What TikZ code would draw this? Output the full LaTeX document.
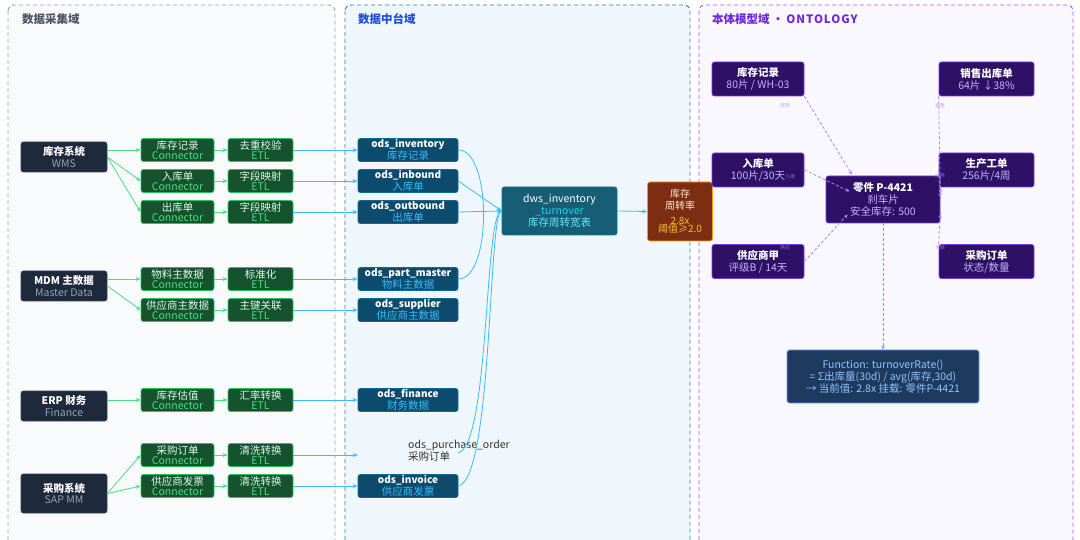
\documentclass[tikz,border=0pt]{standalone}
\usepackage{fontspec}
\setmainfont{Noto Sans CJK SC}
\usetikzlibrary{arrows.meta,calc}
\definecolor{srcfill}{HTML}{1E293B}
\definecolor{srcline}{HTML}{334155}
\definecolor{srcsub}{HTML}{94A3B8}
\definecolor{gfill}{HTML}{14532D}
\definecolor{gline}{HTML}{22C55E}
\definecolor{gsub}{HTML}{4ADE80}
\definecolor{gtop}{HTML}{DCFCE7}
\definecolor{ofill}{HTML}{0C4A6E}
\definecolor{oline}{HTML}{0E6A90}
\definecolor{osub}{HTML}{38BDF8}
\definecolor{dfill}{HTML}{155E75}
\definecolor{dline}{HTML}{0E7490}
\definecolor{dsub}{HTML}{22D3EE}
\definecolor{dsub2}{HTML}{67E8F9}
\definecolor{mfill}{HTML}{7C2D12}
\definecolor{mline}{HTML}{F59E0B}
\definecolor{mtop}{HTML}{FFEDD5}
\definecolor{amber}{HTML}{FBBF24}
\definecolor{pfill}{HTML}{2E1065}
\definecolor{pline}{HTML}{7C3AED}
\definecolor{psub}{HTML}{C4B5FD}
\definecolor{pedge}{HTML}{A78BFA}
\definecolor{ffill}{HTML}{1E3A5F}
\definecolor{fline}{HTML}{60A5FA}
\definecolor{ftext}{HTML}{93C5FD}
\definecolor{panLfill}{HTML}{F8FAFC}
\definecolor{panLline}{HTML}{9CA3AF}
\definecolor{panLtext}{HTML}{4B5563}
\definecolor{panMfill}{HTML}{F0F7FC}
\definecolor{panMline}{HTML}{2B7BB0}
\definecolor{panMtext}{HTML}{1D4ED8}
\definecolor{panRfill}{HTML}{FAF8FF}
\definecolor{panRline}{HTML}{A855F7}
\definecolor{panRtext}{HTML}{6D28D9}
\definecolor{potext}{HTML}{333333}
\tikzset{
  box/.style={rounded corners=2.5pt, align=center, inner sep=0pt, line width=0.8pt},
  src/.style={box, fill=srcfill, draw=srcline, minimum width=86pt, minimum height=30pt, text=white, font=\fontsize{10.5}{11.5}\selectfont},
  conn/.style={box, fill=gfill, draw=gline, minimum width=73pt, minimum height=23pt, text=gtop, font=\fontsize{10.5}{10}\selectfont},
  etl/.style={conn, minimum width=65pt},
  ods/.style={box, fill=ofill, draw=oline, minimum width=100pt, minimum height=23pt, text=white, font=\fontsize{10.5}{10}\selectfont},
  dws/.style={box, fill=dfill, draw=dline, minimum width=115pt, minimum height=48pt, text=white, font=\fontsize{10.5}{12}\selectfont},
  metric/.style={box, fill=mfill, draw=mline, minimum width=65pt, minimum height=59pt, text=mtop, font=\fontsize{10}{12}\selectfont},
  onto/.style={box, fill=pfill, draw=pline, minimum height=34pt, text=white, font=\fontsize{10.5}{12}\selectfont},
  func/.style={box, fill=ffill, draw=fline, minimum width=192pt, minimum height=53pt, text=ftext, font=\fontsize{10.5}{12}\selectfont},
  garr/.style={draw=gsub, line width=0.8pt, -{Stealth[length=5pt,width=4pt]}},
  barr/.style={draw=osub, line width=0.8pt, -{Stealth[length=5pt,width=4pt]}},
  bline/.style={draw=osub, line width=0.8pt},
  parr/.style={draw=pedge, line width=0.8pt, dash pattern=on 3pt off 2pt, -{Stealth[length=4pt,width=3.5pt]}},
  elab/.style={text=pedge, opacity=0.75, font=\fontsize{5}{5}\selectfont, inner sep=0pt},
  paneltitle/.style={anchor=west, font=\fontsize{11.5}{12}\selectfont\bfseries, inner sep=0pt},
}
\begin{document}
\begin{tikzpicture}[x=1pt,y=-1pt]
\useasboundingbox (0,0) rectangle (1080,540);
\fill[white] (0,0) rectangle (1080,540);
% panels
\draw[fill=panLfill, draw=panLline, line width=0.9pt, dash pattern=on 4pt off 3pt, rounded corners=6pt] (8,5) rectangle (335,550);
\draw[fill=panMfill, draw=panMline, line width=0.9pt, dash pattern=on 4pt off 3pt, rounded corners=6pt] (345,5) rectangle (690,550);
\draw[fill=panRfill, draw=panRline, line width=0.9pt, dash pattern=on 4pt off 3pt, rounded corners=6pt] (699,5) rectangle (1073,550);
\node[paneltitle, text=panLtext] (tL) at (22,19) {数据采集域};
\node[paneltitle, text=panMtext] (tM) at (358,19) {数据中台域};
\node[paneltitle, text=panRtext] (tR) at (712,19) {本体模型域 · {\addfontfeatures{LetterSpace=8}ONTOLOGY}};

% sources
\node[src] (wms) at (64,157) {{\bfseries 库存系统}\\{\color{srcsub}WMS}};
\node[src] (mdm) at (64,286) {{\bfseries MDM 主数据}\\{\color{srcsub}Master Data}};
\node[src] (erp) at (64,406) {{\bfseries ERP 财务}\\{\color{srcsub}Finance}};
\node[src, minimum height=39pt] (sap) at (64,493.5) {{\bfseries 采购系统}\\{\color{srcsub}SAP MM}};

% connectors
\node[conn] (c1) at (177.5,150) {库存记录\\{\color{gsub}Connector}};
\node[conn] (c2) at (177.5,181) {入库单\\{\color{gsub}Connector}};
\node[conn] (c3) at (177.5,212) {出库单\\{\color{gsub}Connector}};
\node[conn] (c4) at (177.5,279) {物料主数据\\{\color{gsub}Connector}};
\node[conn] (c5) at (177.5,310) {供应商主数据\\{\color{gsub}Connector}};
\node[conn] (c6) at (177.5,400) {库存估值\\{\color{gsub}Connector}};
\node[conn] (c7) at (177.5,455) {采购订单\\{\color{gsub}Connector}};
\node[conn] (c8) at (177.5,486) {供应商发票\\{\color{gsub}Connector}};

% ETL
\node[etl] (e1) at (260.5,150) {去重校验\\{\color{gsub}ETL}};
\node[etl] (e2) at (260.5,181) {字段映射\\{\color{gsub}ETL}};
\node[etl] (e3) at (260.5,212) {字段映射\\{\color{gsub}ETL}};
\node[etl] (e4) at (260.5,279) {标准化\\{\color{gsub}ETL}};
\node[etl] (e5) at (260.5,310) {主键关联\\{\color{gsub}ETL}};
\node[etl] (e6) at (260.5,400) {汇率转换\\{\color{gsub}ETL}};
\node[etl] (e7) at (260.5,455) {清洗转换\\{\color{gsub}ETL}};
\node[etl] (e8) at (260.5,486) {清洗转换\\{\color{gsub}ETL}};

% ODS
\node[ods] (o1) at (408,150) {{\bfseries\fontsize{10}{10}\selectfont ods\_inventory}\\{\color{osub}库存记录}};
\node[ods] (o2) at (408,181) {{\bfseries\fontsize{10}{10}\selectfont ods\_inbound}\\{\color{osub}入库单}};
\node[ods] (o3) at (408,212) {{\bfseries\fontsize{10}{10}\selectfont ods\_outbound}\\{\color{osub}出库单}};
\node[ods] (o4) at (408,279) {{\bfseries\fontsize{10}{10}\selectfont ods\_part\_master}\\{\color{osub}物料主数据}};
\node[ods] (o5) at (408,310) {{\bfseries\fontsize{10}{10}\selectfont ods\_supplier}\\{\color{osub}供应商主数据}};
\node[ods] (o6) at (408,400) {{\bfseries\fontsize{10}{10}\selectfont ods\_finance}\\{\color{osub}财务数据}};
\node[anchor=west, align=left, inner sep=0pt, text=potext, font=\fontsize{10.5}{10}\selectfont] (o7) at (408,451) {ods\_purchase\_order\\采购订单};
\coordinate (o7in) at (358,455);
\coordinate (o7out) at (458,453);
\node[ods] (o8) at (408,486) {{\bfseries\fontsize{10}{10}\selectfont ods\_invoice}\\{\color{osub}供应商发票}};

% DWS and metric
\node[dws] (dws) at (559.5,211) {dws\_inventory\\{\color{dsub}\_turnover}\\{\color{dsub2}库存周转宽表}};
\node[metric] (kpi) at (680,211.5) {库存\\周转率\\[3pt]{\color{amber}2.8x}\\[-4pt]{\color{amber}阈值≥2.0}};

% ontology
\node[onto, minimum width=92pt] (oa) at (758,79) {{\bfseries 库存记录}\\{\color{psub}80片 / WH-03}};
\node[onto, minimum width=92pt] (ob) at (758,170) {{\bfseries 入库单}\\{\color{psub}100片/30天}};
\node[onto, minimum width=92pt] (oc) at (758,261.5) {{\bfseries 供应商甲}\\{\color{psub}评级B / 14天}};
\node[onto, minimum width=95pt] (od) at (986.5,79) {{\bfseries 销售出库单}\\{\color{psub}64片 ↓38\%}};
\node[onto, minimum width=95pt] (oe) at (986.5,170) {{\bfseries 生产工单}\\{\color{psub}256片/4周}};
\node[onto, minimum width=95pt] (of) at (986.5,261.5) {{\bfseries 采购订单}\\{\color{psub}状态/数量}};
\node[onto, minimum width=114pt, minimum height=47pt] (part) at (883,199.5) {{\bfseries 零件 P-4421}\\{\color{psub}刹车片}\\{\color{psub}安全库存: 500}};
\node[func] (fn) at (883,376.5) {Function: turnoverRate()\\= Σ出库量(30d) / avg(库存,30d)\\→ 当前值: 2.8x 挂载: 零件P-4421};

% source -> connector
\draw[garr] (wms.east |- c1.west) -- (c1.west);
\draw[garr] (wms.east) -- (c2.west);
\draw[garr] (wms.east) -- (c3.west);
\draw[garr] (mdm.east |- c4.west) -- (c4.west);
\draw[garr] (mdm.east) -- (c5.west);
\draw[garr] (erp.east |- c6.west) -- (c6.west);
\draw[garr] (sap.east) -- (c7.west);
\draw[garr] (sap.east) -- (c8.west);
% connector -> etl
\foreach \i in {1,...,8} {\draw[garr] (c\i.east) -- (e\i.west);}
% etl -> ods
\draw[barr] (e1.east) -- (o1.west);
\draw[barr] (e2.east) -- (o2.west);
\draw[barr] (e3.east) -- (o3.west);
\draw[barr] (e4.east) -- (o4.west);
\draw[barr] (e5.east) -- (o5.west);
\draw[barr] (e6.east) -- (o6.west);
\draw[barr] (e7.east) -- (o7in);
\draw[barr] (e8.east) -- (o8.west);
% ods -> dws
\draw[bline] (o1.east) .. controls (492,150) and (492,279) .. (o4.east);
\draw[barr] (o2.east) -- (dws.west);
\draw[barr] (o3.east) -- (dws.west);
\draw[bline] (o7out) .. controls (490,445) and (484,211) .. (dws.west);
\draw[bline] (o8.east) .. controls (493,478) and (488,211) .. (dws.west);
\draw[barr] (dws.east) -- (kpi.west);

% ontology edges
\draw[parr] (oa.south east) -- ($(part.north)+(-31,-1)$);
\draw[parr] (ob.east) -- ($(part.west)+(24,-8)$);
\draw[parr] (oc.east) -- ($(part.west)+(22,15)$);
\draw[parr] (od.south west) -- ($(part.east)+(0,-6)$);
\draw[parr] (oe.west) -- ($(part.east)+(0,-2)$);
\draw[parr] (of.north west) -- ($(part.east)+(0,14)$);
\draw[draw=fline, line width=0.8pt, dash pattern=on 3pt off 2pt, -{Stealth[length=4pt,width=3.5pt]}] (part.south) -- (fn.north);
\node[elab] (la) at (785,106) {库存};
\node[elab] (lb) at (790,177) {入库};
\node[elab] (lc) at (785,248) {供应};
\node[elab] (ld) at (940,106) {销售};
\node[elab] (le) at (940,176) {消耗};
\node[elab] (lf) at (940,248) {关联};
\end{tikzpicture}
\end{document}
